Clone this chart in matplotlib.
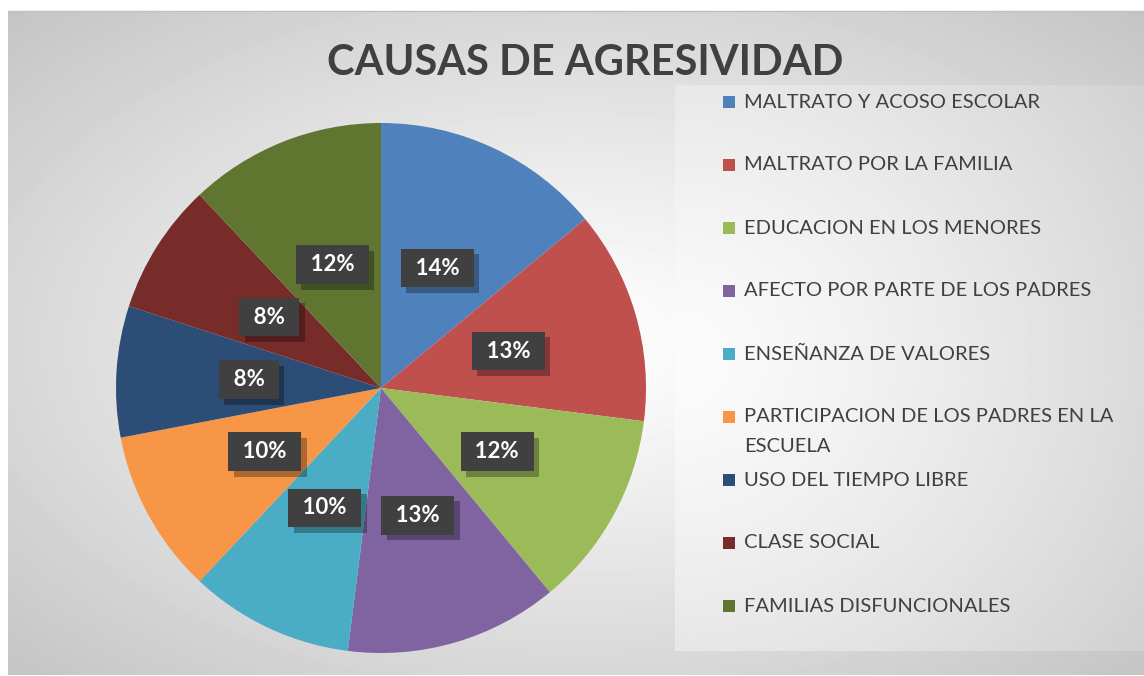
import numpy as np
import matplotlib.pyplot as plt
from matplotlib.patches import Rectangle
import matplotlib.patheffects as pe

plt.rcParams['font.family'] = ['Lato', 'DejaVu Sans']

# data
categories = [
    "MALTRATO Y ACOSO ESCOLAR",
    "MALTRATO POR LA FAMILIA",
    "EDUCACION EN LOS MENORES",
    "AFECTO POR PARTE DE LOS PADRES",
    "ENSEÑANZA DE VALORES",
    "PARTICIPACION DE LOS PADRES EN LA\nESCUELA",
    "USO DEL TIEMPO LIBRE",
    "CLASE SOCIAL",
    "FAMILIAS DISFUNCIONALES",
]
values = [14, 13, 12, 13, 10, 10, 8, 8, 12]
colors = ["#4f81bd", "#c0504d", "#9bbb59", "#8064a2", "#4bacc6",
          "#f79646", "#2c4d75", "#772c2a", "#5f7530"]
title = "CAUSAS DE AGRESIVIDAD"

W, H = 1144, 676
fig = plt.figure(figsize=(W / 100, H / 100), dpi=100)
fig.patch.set_facecolor("white")

# background layer in pixel coordinates
bg = fig.add_axes([0, 0, 1, 1], zorder=0)
bg.set_xlim(0, W)
bg.set_ylim(H, 0)
bg.axis("off")

x0, x1, y0, y1 = 8, W, 11, 675
xx, yy = np.meshgrid(np.linspace(x0, x1, 300), np.linspace(y0, y1, 200))
cx, cy = (x0 + x1) / 2, (y0 + y1) / 2
r = np.sqrt(((xx - cx) / (x1 - cx)) ** 2 + ((yy - cy) / (y1 - cy)) ** 2) / np.sqrt(2)
shade = 1.0 - (1.0 - 0.77) * np.clip(r, 0, 1) ** 1.1
bg.imshow(shade, cmap="gray", vmin=0, vmax=1, extent=(x0, x1, y1, y0),
          aspect="auto", interpolation="bilinear", zorder=0)
bg.plot([x0, x1], [y0, y0], color="#bfbfbf", lw=1, zorder=1)

# legend panel
lx0, lx1, ly0, ly1 = 675, W, 85, 651
lxx, lyy = np.meshgrid(np.linspace(lx0, lx1, 200), np.linspace(ly0, ly1, 200))
lr = np.sqrt(((lxx - lx0) / (lx1 - lx0)) ** 2 + ((lyy - 360) / 420) ** 2)
lshade = 0.985 - 0.13 * np.clip(lr, 0, 1.4) ** 1.3
bg.imshow(lshade, cmap="gray", vmin=0, vmax=1, extent=(lx0, lx1, ly1, ly0),
          aspect="auto", interpolation="bilinear", zorder=1)

bg.text(585, 63, title, ha="center", va="center", fontsize=30,
        fontweight="bold", color="#404040", zorder=3)

# legend entries
for i, (cat, col) in enumerate(zip(categories, colors)):
    y = 102 + 63 * i
    bg.add_patch(Rectangle((723, y - 6), 12, 12, facecolor=col, edgecolor="none", zorder=3))
    for k, line in enumerate(cat.split("\n")):
        bg.text(744, y + 29 * k, line, ha="left", va="center", fontsize=14.5,
                color="#404040", zorder=3)

# pie
R = 265
pcx, pcy = 381, 388
ax = fig.add_axes([(pcx - R) / W, (H - pcy - R) / H, 2 * R / W, 2 * R / H], zorder=2)
wedges, texts, autotexts = ax.pie(values, colors=colors, startangle=90, counterclock=False,
                                  autopct=lambda p: f"\u2005{p:.0f}%\u2005", pctdistance=0.5,
                                  wedgeprops=dict(linewidth=0))
ax.set_xlim(-1, 1)
ax.set_ylim(-1, 1)
ax.set_aspect("equal")
ax.axis("off")

for t in autotexts:
    t.set_color("white")
    t.set_fontsize(16)
    t.set_fontweight("bold")
    t.set_bbox(dict(boxstyle="square,pad=0.4", facecolor="#404040", edgecolor="none"))
    t.get_bbox_patch().set_path_effects([
        pe.withSimplePatchShadow(offset=(4, -4), shadow_rgbFace="black", alpha=0.3)])

fig.savefig("out.png", dpi=100)
